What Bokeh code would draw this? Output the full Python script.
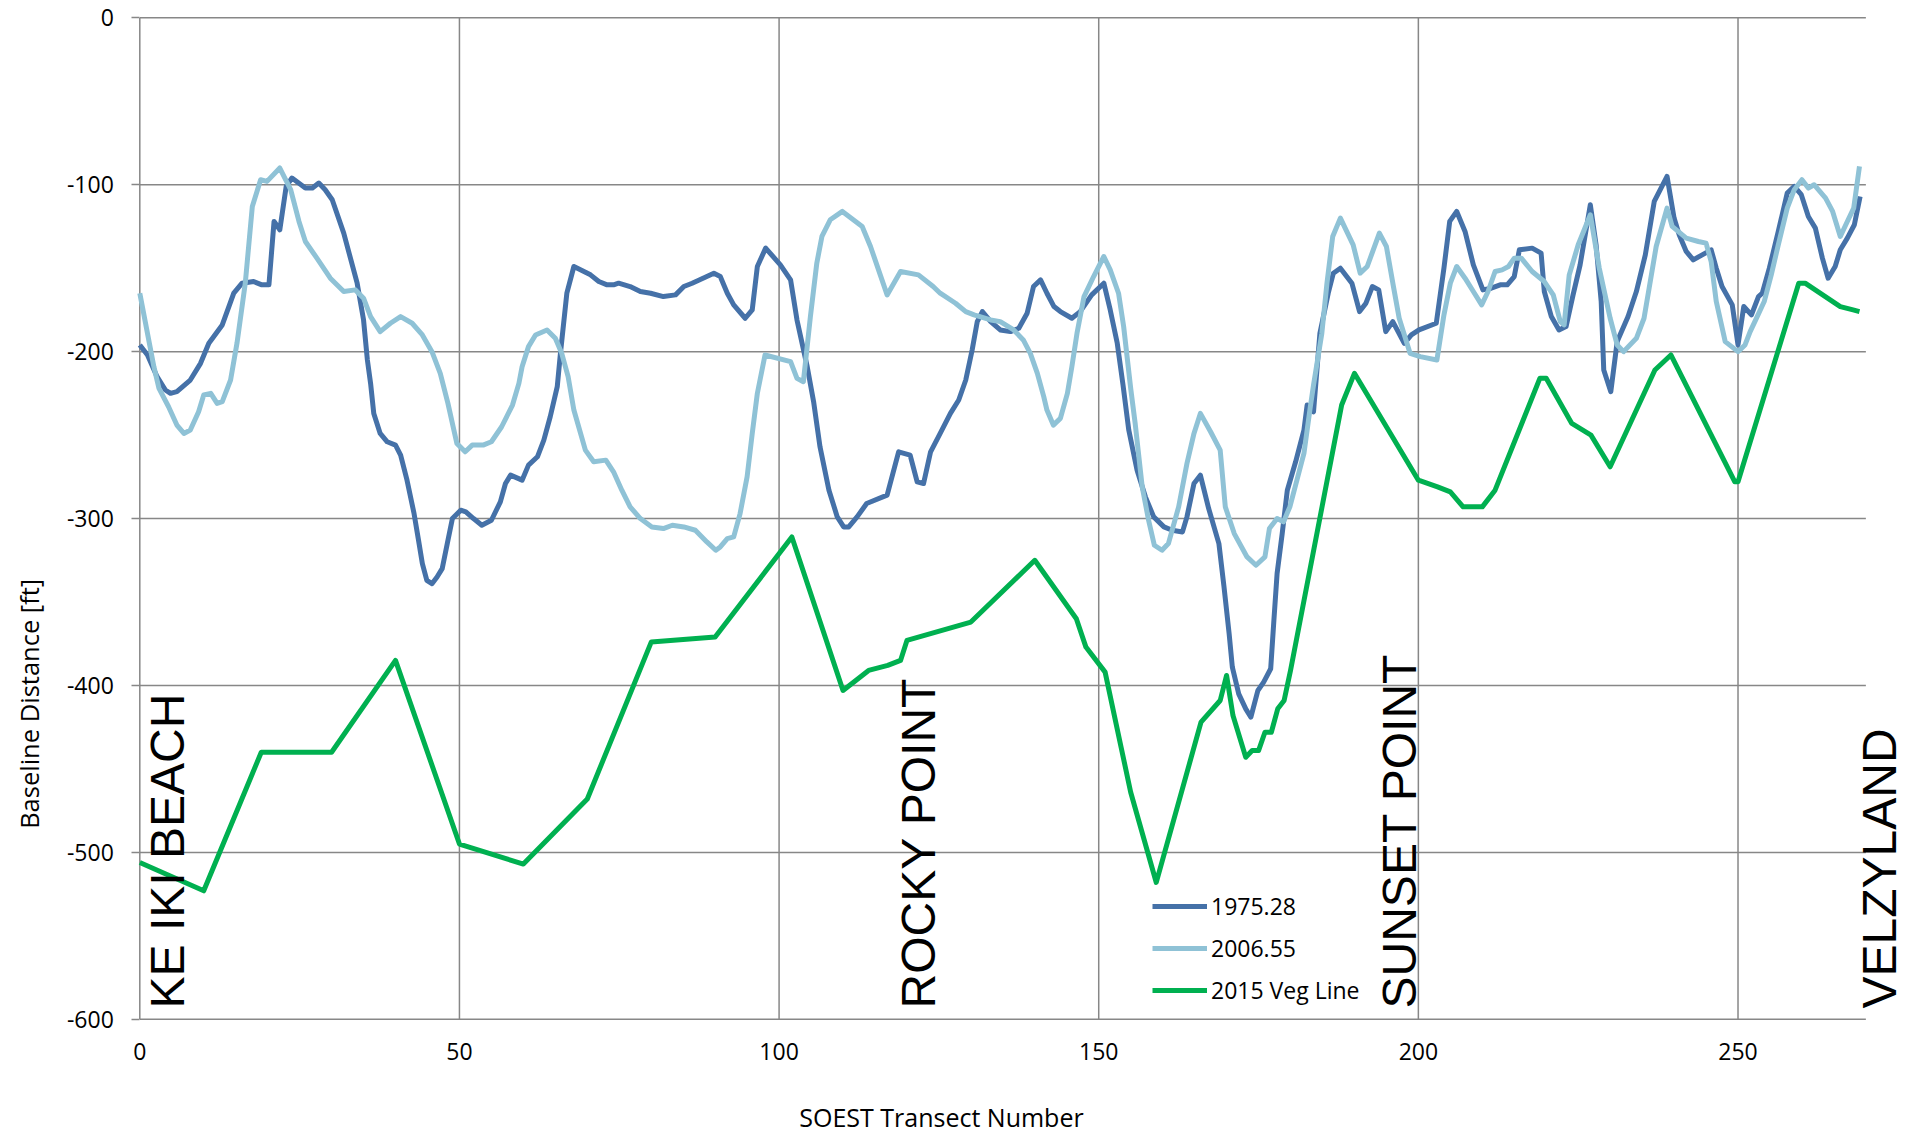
from math import pi
from bokeh.plotting import figure
from bokeh.models import (Range1d, FixedTicker, Label, Legend, LegendItem)
from bokeh.embed import file_html
from bokeh.resources import INLINE

# ---------------- data ----------------
x1975 = [0, 1.2, 2.7, 4.0, 4.8, 5.8, 7.9, 9.5, 10.8, 12.9, 14.7, 16.0, 17.8, 19.1, 20.2, 21.0, 21.9,
         22.9, 23.8, 25.9, 27.0, 28.0, 29.0, 30.1, 31.9, 34.0, 35.0, 35.6, 36.1, 36.6, 37.6, 38.7,
         40.0, 40.8, 41.8, 42.9, 43.6, 44.2, 44.9, 45.7, 46.5, 47.3, 48.1, 48.9, 50.2, 51.0, 52.2,
         53.5, 55.0, 56.4, 57.2, 58.0, 59.8, 60.8, 62.2, 63.2, 64.2, 65.3, 65.8, 66.8, 67.9, 70.5,
         71.8, 73.1, 74.1, 74.9, 76.7, 78.3, 79.9, 81.9, 83.8, 85.1, 86.4, 88.7, 89.8, 90.8, 91.9,
         92.9, 94.7, 95.8, 96.6, 97.9, 100.2, 101.8, 102.8, 104.4, 105.4, 106.4, 107.8, 109.1,
         110.1, 110.9, 112.2, 113.7, 116.9, 118.7, 120.5, 121.6, 122.6, 123.7, 125.2, 126.8, 128.1,
         129.2, 130.2, 131.0, 131.8, 133.1, 134.6, 136.2, 137.5, 138.8, 139.8, 140.9, 141.9, 143.0,
         144.0, 145.8, 147.1, 148.9, 150.8, 151.8, 152.9, 153.8, 154.7, 156.0, 157.3, 158.6, 160.2,
         161.5, 163.1, 163.8, 164.9, 165.9, 167.2, 168.8, 169.6, 170.4, 170.9, 171.9, 173.0, 173.8,
         174.9, 175.8, 176.9, 177.4, 177.9, 178.7, 179.5, 180.8, 182.1, 182.6, 183.6, 184.6, 185.9,
         186.7, 187.8, 189.6, 190.8, 191.8, 192.8, 193.8, 194.9, 196.0, 197.8, 198.9, 200.1, 202.8,
         204.0, 204.9, 206.0, 207.3, 208.6, 210.1, 211.4, 212.8, 213.9, 215.0, 215.8, 217.8, 219.2,
         219.7, 220.8, 222.0, 223.1, 224.2, 225.3, 226.9, 227.8, 228.6, 229.0, 230.1, 231.1, 232.8,
         234.1, 235.5, 236.9, 238.9, 240.0, 240.8, 241.9, 243.0, 244.4, 245.8, 246.6, 247.5, 249.1,
         250.0, 250.9, 252.1, 253.2, 253.8, 254.9, 256.3, 257.7, 258.8, 259.9, 261.0, 262.1, 263.2,
         264.1, 265.2, 266.0, 267.1, 268.2, 269.1]
y1975 = [-196, -202, -215, -223, -225, -224, -217, -207, -195, -184, -165, -159, -158, -160, -160,
         -122, -127, -101, -96, -102, -102, -99, -103, -109, -129, -159, -181, -205, -219, -237,
         -249, -254, -256, -262, -277, -297, -313, -327, -337, -339, -335, -330, -315, -300, -295,
         -296, -300, -304, -301, -290, -279, -274, -277, -268, -263, -253, -239, -221, -201, -165,
         -149, -154, -158, -160, -160, -159, -161, -164, -165, -167, -166, -161, -159, -155, -153,
         -155, -165, -172, -180, -175, -149, -138, -148, -157, -181, -209, -230, -257, -283, -299,
         -305, -305, -299, -291, -286, -260, -262, -278, -279, -260, -249, -237, -229, -217, -199,
         -182, -176, -182, -187, -188, -186, -177, -161, -157, -165, -173, -176, -180, -176, -166,
         -159, -175, -195, -220, -247, -271, -287, -299, -305, -307, -308, -299, -279, -274, -294,
         -315, -341, -369, -389, -405, -414, -419, -403, -398, -390, -361, -333, -309, -283, -266,
         -247, -232, -236, -189, -165, -153, -150, -159, -176, -171, -161, -163, -188, -182, -195,
         -190, -187, -183, -150, -122, -116, -128, -148, -163, -162, -160, -160, -155, -139, -138,
         -141, -164, -179, -187, -185, -166, -148, -112, -136, -170, -211, -224, -194, -179, -164,
         -142, -110, -95, -120, -130, -140, -145, -142, -139, -150, -161, -172, -196, -173, -178,
         -167, -165, -150, -128, -105, -101, -106, -119, -126, -144, -156, -149, -139, -132, -124,
         -107]

x2006 = [0, 1.1, 2.2, 3.0, 4.5, 5.8, 6.9, 7.9, 9.2, 10.0, 11.1, 12.1, 12.9, 14.2, 15.2, 16.5, 17.6,
         18.9, 19.9, 21.9, 23.6, 24.9, 25.9, 27.7, 29.8, 31.9, 33.7, 35.0, 36.1, 37.6, 39.2, 40.8,
         42.6, 44.2, 45.7, 47.0, 48.2, 49.6, 50.9, 52.0, 53.7, 55.0, 56.6, 58.3, 59.3, 59.8, 60.8,
         61.9, 63.7, 65.0, 66.0, 67.0, 67.9, 69.7, 71.0, 72.9, 74.1, 75.4, 76.7, 78.3, 80.1, 81.9,
         83.3, 85.1, 86.9, 88.7, 90.1, 90.8, 91.9, 92.9, 93.9, 95.0, 95.8, 96.6, 97.8, 101.8, 102.8,
         103.8, 104.9, 105.9, 106.7, 108.0, 109.9, 113.0, 114.3, 116.9, 119.0, 121.8, 124.1, 125.2,
         127.6, 129.2, 130.5, 133.1, 134.6, 136.7, 138.2, 139.3, 140.4, 141.4, 141.9, 142.9, 144.0,
         145.1, 145.8, 146.6, 147.7, 149.2, 150.8, 151.8, 153.1, 153.9, 155.0, 155.7, 156.8, 157.8,
         158.7, 159.9, 160.9, 162.5, 163.8, 164.9, 165.9, 167.5, 169.0, 169.8, 171.2, 173.2, 174.6,
         176.0, 176.7, 177.9, 178.9, 179.9, 181.0, 182.1, 183.1, 183.6, 184.9, 185.7, 186.6, 187.8,
         189.8, 190.9, 192.0, 193.9, 195.0, 196.1, 197.0, 198.7, 200.3, 202.9, 204.0, 205.0, 206.0,
         207.3, 208.6, 209.9, 210.9, 212.0, 213.1, 214.1, 215.0, 216.1, 217.8, 219.7, 221.1, 222.2,
         222.8, 223.6, 225.0, 226.9, 228.3, 230.0, 231.1, 232.1, 234.1, 235.3, 236.1, 237.2, 238.9,
         239.7, 241.9, 243.8, 245.0, 245.8, 246.6, 248.0, 250.0, 251.1, 251.9, 253.0, 254.1, 255.2,
         256.3, 257.7, 258.8, 260.0, 261.0, 261.9, 263.7, 264.8, 266.0, 267.1, 268.1, 269.0]
y2006 = [-165, -187, -209, -222, -233, -244, -249, -247, -236, -226, -225, -231, -230, -217, -195,
         -159, -113, -97, -98, -90, -103, -122, -134, -144, -156, -164, -163, -168, -179, -188,
         -183, -179, -183, -190, -200, -213, -231, -255, -260, -256, -256, -254, -245, -232, -219,
         -209, -197, -190, -187, -192, -201, -215, -235, -259, -266, -265, -272, -283, -293, -300,
         -305, -306, -304, -305, -307, -314, -319, -317, -312, -311, -297, -275, -249, -225, -202,
         -206, -216, -218, -179, -147, -131, -121, -116, -125, -137, -166, -152, -154, -161, -165,
         -171, -176, -178, -181, -182, -187, -193, -201, -213, -227, -235, -244, -240, -225, -209,
         -189, -167, -155, -143, -151, -165, -185, -222, -243, -281, -301, -316, -319, -315, -293,
         -267, -249, -237, -248, -259, -293, -309, -323, -328, -323, -306, -300, -302, -293, -277,
         -261, -233, -220, -189, -159, -131, -120, -136, -153, -149, -129, -137, -161, -180, -201,
         -203, -205, -178, -159, -149, -156, -164, -172, -164, -152, -151, -149, -144, -144, -152,
         -158, -166, -182, -184, -154, -136, -118, -150, -180, -196, -200, -192, -180, -162, -137,
         -114, -125, -132, -134, -135, -146, -170, -194, -200, -196, -188, -179, -170, -154, -136,
         -114, -103, -97, -102, -100, -108, -116, -131, -122, -114, -89]

xveg = [0, 10, 19, 30, 40, 50, 60, 70, 80, 90, 102, 110, 114, 117, 119, 120, 130, 140, 146.5,
        148, 151, 153.5, 155, 159, 166, 169, 170, 171, 173, 174, 175, 176, 177, 178, 179, 180,
        188, 190, 200, 203, 205, 207, 210, 212, 219, 220, 224, 227, 230, 237, 239.5, 249.5, 250,
        259.5, 260.5, 266, 268, 269]
yveg = [-506, -523, -440, -440, -385, -495, -507, -468, -374, -371, -311, -403, -391, -388, -385,
        -373, -362, -325, -360, -377, -392, -437, -464, -518, -422, -409, -394, -418, -443, -439,
        -439, -428, -428, -414, -409, -391, -232, -213, -277, -281, -284, -293, -293, -283, -216,
        -216, -243, -250, -269, -211, -202, -278, -278, -159, -159, -173, -175, -176]

series_names = ["1975.28", "2006.55", "2015 Veg Line"]
place_names = ["KE IKI BEACH", "ROCKY POINT", "SUNSET POINT", "VELZYLAND"]
place_transects = [4.3, 121.8, 197.0, 272.2]

x_ticks = [0, 50, 100, 150, 200, 250]
y_ticks = [-600, -500, -400, -300, -200, -100, 0]
x_first, x_last = 0, 270
y_low, y_high = -600, 0

# ---------------- figure ----------------
GRID = "#878787"
TICK_FONT = "Open Sans"

# the frame covers the whole canvas; axes are pinned to the data edges
p = figure(width=1905, height=1137, output_backend="svg", toolbar_location=None,
           x_range=Range1d(-21.79, 276.2), y_range=Range1d(-670.8, 10.36),
           min_border=0, min_border_left=0, min_border_right=0,
           min_border_top=0, min_border_bottom=0)
p.outline_line_color = None
p.background_fill_color = "white"
p.xgrid.visible = False
p.ygrid.visible = False

p.xaxis.fixed_location = y_low
p.yaxis.fixed_location = x_first
p.xaxis.ticker = FixedTicker(ticks=x_ticks)
p.yaxis.ticker = FixedTicker(ticks=y_ticks)
for ax in (p.xaxis[0], p.yaxis[0]):
    ax.major_label_text_font = TICK_FONT
    ax.major_label_text_font_size = "23px"
    ax.major_label_text_color = "black"
    ax.minor_tick_line_color = None
    ax.axis_line_color = None
p.xaxis.major_tick_line_color = None
p.xaxis.major_label_standoff = 18
p.yaxis.major_tick_line_color = GRID
p.yaxis.major_tick_line_width = 1.5
p.yaxis.major_tick_out = 8
p.yaxis.major_tick_in = 0
p.yaxis.major_label_standoff = 18
p.yaxis.major_label_overrides = {t: str(t) for t in y_ticks}

# gridlines limited to the data area
p.segment(x0=[x_first] * len(y_ticks), x1=[x_last] * len(y_ticks), y0=y_ticks, y1=y_ticks,
          line_color=GRID, line_width=1.5)
p.segment(x0=x_ticks, x1=x_ticks, y0=[y_low] * len(x_ticks), y1=[y_high] * len(x_ticks),
          line_color=GRID, line_width=1.5)

r1 = p.line(x1975, y1975, line_color="#4571A8", line_width=5, line_join="round")
r2 = p.line(x2006, y2006, line_color="#8FC2D6", line_width=5, line_join="round")
r3 = p.line(xveg, yveg, line_color="#00B050", line_width=5, line_join="round")

legend = Legend(items=[LegendItem(label=series_names[0], renderers=[r1]),
                       LegendItem(label=series_names[1], renderers=[r2]),
                       LegendItem(label=series_names[2], renderers=[r3])],
                location=(1152, 131), padding=0, margin=0, spacing=10,
                glyph_width=55, glyph_height=22, label_height=22, label_standoff=4,
                label_text_font=TICK_FONT, label_text_font_size="23px",
                label_text_color="black",
                background_fill_alpha=0, border_line_alpha=0)
p.add_layout(legend)

for name, xt in zip(place_names, place_transects):
    p.add_layout(Label(x=xt, y=-593.5, text=name, angle=pi / 2, text_align="left",
                       text_baseline="alphabetic", text_font="Liberation Sans",
                       text_font_size="48px", text_color="black"))

p.add_layout(Label(x=125.4, y=-658.5, text="SOEST Transect Number", text_align="center",
                   text_baseline="middle", text_font="Open Sans", text_font_size="25px",
                   text_color="black"))
p.add_layout(Label(x=-17.3, y=-411, text="Baseline Distance [ft]", angle=pi / 2,
                   text_align="center", text_baseline="middle", text_font="Open Sans",
                   text_font_size="25.5px", text_color="black"))

open("out.html", "w").write(file_html(p, INLINE))
